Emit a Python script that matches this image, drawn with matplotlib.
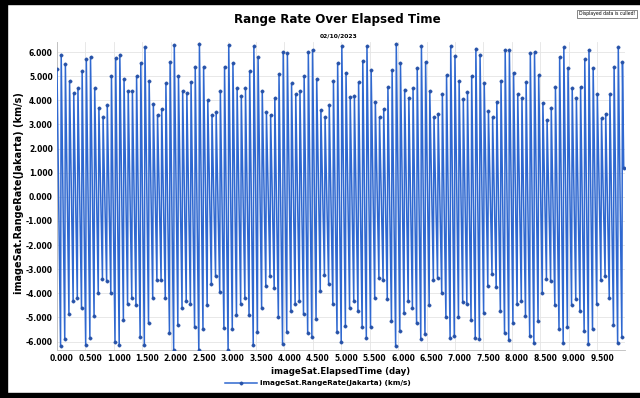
import matplotlib
matplotlib.use("Agg")
import matplotlib.pyplot as plt
import matplotlib.transforms as mtransforms
import numpy as np
from matplotlib.patches import Rectangle

# ---- data (km/s) ----
peak_rr = [5.3, 5.9, 5.5, 4.8, 4.3, 4.5, 5.2, 5.7, 5.8, 4.5,
           3.7, 3.3, 3.8, 5.0, 5.75, 5.9, 4.9, 4.4, 4.4, 5.0,
           5.55, 6.2, 4.8, 3.85, 3.4, 3.65, 4.7, 5.6, 6.3, 5.0,
           4.4, 4.3, 4.75, 5.4, 6.35, 5.4, 4.0, 3.4, 3.5, 4.4,
           5.4, 6.3, 5.55, 4.5, 4.2, 4.5, 5.2, 6.25, 5.8, 4.4,
           3.5, 3.4, 4.1, 5.1, 6.0, 5.95, 4.7, 4.25, 4.4, 5.0,
           6.0, 6.1, 4.9, 3.6, 3.3, 3.8, 4.8, 5.55, 6.25, 5.15,
           4.15, 4.2, 4.75, 5.65, 6.25, 5.25, 3.95, 3.3, 3.65, 4.55,
           5.25, 6.35, 5.55, 4.45, 4.1, 4.5, 5.35, 6.25, 5.6, 4.4,
           3.3, 3.45, 4.25, 5.05, 6.25, 5.85, 4.8, 4.05, 4.35, 5.0,
           6.15, 5.9, 4.7, 3.55, 3.3, 3.95, 4.8, 6.1, 6.1, 5.15,
           4.25, 4.1, 4.75, 5.95, 6.0, 5.05, 3.9, 3.2, 3.7, 4.55,
           5.8, 6.2, 5.35, 4.5, 4.1, 4.55, 5.7, 6.1, 5.35, 4.25,
           3.25, 3.45, 4.25, 5.4, 6.2, 5.6]
trough_rr = [-6.2, -5.9, -4.85, -4.3, -4.2, -4.6, -6.15, -5.85, -4.95, -4.0,
             -3.4, -3.5, -4.0, -6.0, -6.15, -5.1, -4.45, -4.2, -4.5, -5.8,
             -6.15, -5.25, -4.2, -3.45, -3.45, -4.2, -5.65, -6.35, -5.3, -4.6,
             -4.3, -4.45, -5.4, -6.35, -5.5, -4.5, -3.6, -3.3, -3.95, -5.45,
             -6.35, -5.5, -4.9, -4.45, -4.2, -4.9, -6.15, -5.6, -4.6, -3.7,
             -3.3, -3.8, -5.0, -6.1, -5.6, -4.75, -4.45, -4.3, -4.85, -5.65,
             -5.8, -5.05, -3.9, -3.25, -3.6, -4.45, -5.6, -6.0, -5.35, -4.6,
             -4.3, -4.75, -5.4, -5.85, -5.4, -4.2, -3.35, -3.45, -4.25, -5.15,
             -6.2, -5.55, -4.8, -4.3, -4.6, -5.25, -5.9, -5.7, -4.5, -3.45,
             -3.35, -4.0, -5.0, -5.85, -5.75, -5.0, -4.35, -4.45, -5.1, -5.85,
             -5.9, -4.8, -3.7, -3.2, -3.75, -4.75, -5.65, -5.95, -5.25, -4.45,
             -4.3, -4.95, -5.75, -6.05, -5.15, -4.0, -3.4, -3.5, -4.5, -5.5,
             -6.05, -5.4, -4.5, -4.25, -4.75, -5.55, -6.1, -5.5, -4.45, -3.45,
             -3.3, -4.2, -5.3, -6.05, -5.8]
end_rr = 1.2
orbit_period_day = 0.07367   # time between successive passes
pass_fraction = 0.85         # trough position inside an orbit

y_ticks = [-6, -5, -4, -3, -2, -1, 0, 1, 2, 3, 4, 5, 6]
x_ticks = [0.0, 0.5, 1.0, 1.5, 2.0, 2.5, 3.0, 3.5, 4.0, 4.5,
           5.0, 5.5, 6.0, 6.5, 7.0, 7.5, 8.0, 8.5, 9.0, 9.5]

title = "Range Rate Over Elapsed Time"
subtitle = "02/10/2023"
xlabel = "imageSat.ElapsedTime (day)"
ylabel = "imageSat.RangeRate(Jakarta) (km/s)"
series_name = "imageSat.RangeRate(Jakarta) (km/s)"
note = "Displayed data is culled!"

# ---- build series ----
n_p, n_t = len(peak_rr), len(trough_rr)
t_peak = np.arange(n_p) * orbit_period_day
t_trough = t_peak[:n_t] + pass_fraction * orbit_period_day
elapsed = np.empty(n_p + n_t + 1)
rr = np.empty(n_p + n_t + 1)
elapsed[0:n_p + n_t:2] = t_peak
rr[0:n_p + n_t:2] = peak_rr
elapsed[1:n_p + n_t:2] = t_trough
rr[1:n_p + n_t:2] = trough_rr
elapsed[-1] = t_peak[-1] + 0.3 * orbit_period_day
rr[-1] = end_rr

W, H = 640, 398
fig = plt.figure(figsize=(W / 100, H / 100), dpi=100)
fig.patch.set_facecolor("white")

ax = fig.add_axes([57 / W, 1 - 350 / H, (625 - 57) / W, (350 - 42) / H])
line_col = "#2f68d0"
ax.plot(elapsed, rr, color=line_col, lw=1.1, alpha=1.0,
        marker="o", ms=2.4, mfc="#2752a8", mec="#2752a8", mew=0.3,
        label=series_name, zorder=3)

ax.set_xlim(0, 9.99)
ax.set_ylim(-6.35, 6.42)
ax.set_yticks(y_ticks)
ax.set_yticklabels([f"{v:.3f}" for v in y_ticks])
ax.set_xticks(x_ticks)
ax.set_xticklabels([f"{v:.3f}" for v in x_ticks])
ax.grid(True, color="#e4e4e4", lw=0.6, zorder=0)
ax.tick_params(axis="both", labelsize=5.5, length=0, pad=3)
shift = mtransforms.ScaledTranslation(5 / 100, 0, fig.dpi_scale_trans)
for lab in ax.get_xticklabels():
    lab.set_fontweight("bold")
    lab.set_transform(lab.get_transform() + shift)
for lab in ax.get_yticklabels():
    lab.set_fontweight("bold")
for s in ["top", "right"]:
    ax.spines[s].set_visible(False)
for s in ["left", "bottom"]:
    ax.spines[s].set_color("#bbbbbb")
    ax.spines[s].set_linewidth(0.6)

ax.set_xlabel(xlabel, fontsize=6.2, fontweight="bold", labelpad=3)
ax.set_ylabel(ylabel, fontsize=7.0, fontweight="bold")
ax.yaxis.set_label_coords((24 - 57) / (625 - 57), (350 - 193) / (350 - 42))

fig.text(337 / W, 1 - 19 / H, title, ha="center", va="center",
         fontsize=8.6, fontweight="bold")
fig.text(339 / W, 1 - 36 / H, subtitle, ha="center", va="center",
         fontsize=4.3, fontweight="bold")
fig.text(607 / W, 1 - 14 / H, note, ha="center", va="center", fontsize=3.3,
         bbox=dict(boxstyle="square,pad=0.4", fc="white", ec="#555555", lw=0.5))

leg = fig.legend(loc="center", bbox_to_anchor=(318 / W, 1 - 383 / H),
                 frameon=False, fontsize=5.2, handlelength=4.5, borderpad=0,
                 handletextpad=0.4)
for t in leg.get_texts():
    t.set_fontweight("bold")

# black frame
fig.patches.append(Rectangle((0, 0), 7 / W, 1, transform=fig.transFigure,
                             color="black", zorder=10))
fig.patches.append(Rectangle((0, 1 - 4 / H), 1, 4 / H, transform=fig.transFigure,
                             color="black", zorder=10))
fig.patches.append(Rectangle((0, 0), 1, 5 / H, transform=fig.transFigure,
                             color="black", zorder=10))

fig.savefig("out.png", dpi=100)
